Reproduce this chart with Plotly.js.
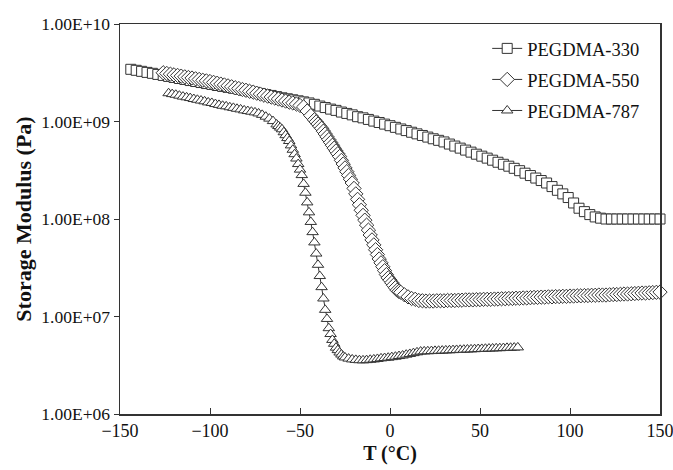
<!DOCTYPE html>
<html>
<head>
<meta charset="utf-8">
<script src="https://cdn.plot.ly/plotly-3.0.1.min.js"></script>
<style>html,body{margin:0;padding:0;background:#fff;}#chart{width:673px;height:470px;}</style>
</head>
<body>
<div id="chart"></div>
<script>
// Temperature (°C) and storage modulus (Pa)
const seriesNames = ['PEGDMA-330', 'PEGDMA-550', 'PEGDMA-787'];

const temp330 = [-144,-141,-138,-135,-132,-129,-126,-123,-120,-117,-114,-111,-108,-105,-102,-99,-96,-93,-90,-87,-84,-81,-78,-75,-72,-69,-66,-63,-60,-57,-54,-51,-48,-45,-42,-39,-36,-33,-30,-27,-24,-21,-18,-15,-12,-9,-6,-3,0,3,6,9,12,15,18,21,24,27,30,33,36,39,42,45,48,51,54,57,60,63,66,69,72,75,78,81,84,87,90,93,96,99,102,105,108,111,114,117,120,123,126,129,132,135,138,141,144,147,150];
const mod330 = [3.43e9,3.35e9,3.27e9,3.19e9,3.12e9,3.04e9,2.97e9,2.90e9,2.83e9,2.76e9,2.70e9,2.63e9,2.57e9,2.51e9,2.45e9,2.40e9,2.34e9,2.29e9,2.24e9,2.19e9,2.14e9,2.09e9,2.04e9,1.99e9,1.94e9,1.89e9,1.85e9,1.80e9,1.75e9,1.71e9,1.67e9,1.63e9,1.59e9,1.55e9,1.50e9,1.44e9,1.39e9,1.34e9,1.30e9,1.25e9,1.21e9,1.17e9,1.12e9,1.09e9,1.05e9,1.01e9,9.77e8,9.40e8,9.06e8,8.71e8,8.38e8,8.07e8,7.76e8,7.47e8,7.19e8,6.92e8,6.65e8,6.41e8,6.17e8,5.87e8,5.60e8,5.33e8,5.09e8,4.85e8,4.62e8,4.41e8,4.21e8,4.01e8,3.82e8,3.64e8,3.48e8,3.31e8,3.13e8,2.95e8,2.79e8,2.63e8,2.48e8,2.34e8,2.15e8,1.97e8,1.81e8,1.66e8,1.46e8,1.29e8,1.19e8,1.11e8,1.05e8,1.02e8,1.00e8,1.00e8,1.00e8,1.00e8,1.00e8,1.00e8,1.00e8,1.00e8,1.00e8,1.00e8,1.00e8];

const temp550 = [-126,-124,-122,-120,-118,-116,-114,-112,-110,-108,-106,-104,-102,-100,-98,-96,-94,-92,-90,-88,-86,-84,-82,-80,-78,-76,-74,-72,-70,-68,-66,-64,-62,-60,-58,-56,-54,-52,-50,-48,-46,-44,-42,
-41,-40,-39,-38,-37,-36,-35,-34,-33,-32,-31,-30,-29,-28,-27,-26,-25,-24,-23,-22,-21,-20,-19,-18,-17,-16,-15,-14,-13,-12,-11,-10,-9,-8,-7,-6,-5,-4,-3,-2,-1,0,1,2,3,4,5,6,
8,10,12,14,16,18,20,22,24,26,28,30,32,34,36,38,40,42,44,46,48,50,52,54,56,58,60,62,64,66,68,70,72,74,76,78,80,82,84,86,88,90,92,94,96,98,100,102,104,106,108,110,112,114,116,118,120,122,124,126,128,130,132,134,136,138,140,142,144,146,148,150];
const mod550 = [3.16e9,3.11e9,3.06e9,3.01e9,2.97e9,2.92e9,2.87e9,2.83e9,2.79e9,2.74e9,2.70e9,2.65e9,2.61e9,2.57e9,2.52e9,2.47e9,2.42e9,2.37e9,2.32e9,2.27e9,2.22e9,2.18e9,2.13e9,2.09e9,2.04e9,2.00e9,1.95e9,1.91e9,1.86e9,1.82e9,1.78e9,1.74e9,1.70e9,1.66e9,1.62e9,1.58e9,1.55e9,1.51e9,1.46e9,1.41e9,1.28e9,1.15e9,1.04e9,
9.91e8,9.42e8,8.95e8,8.51e8,7.96e8,7.45e8,6.97e8,6.52e8,6.10e8,5.70e8,5.33e8,4.99e8,4.67e8,4.37e8,3.99e8,3.66e8,3.34e8,3.06e8,2.80e8,2.56e8,2.34e8,2.06e8,1.81e8,1.59e8,1.40e8,1.23e8,1.09e8,9.73e7,8.65e7,7.69e7,6.85e7,6.10e7,5.43e7,4.84e7,4.32e7,3.89e7,3.55e7,3.24e7,2.95e7,2.69e7,2.49e7,2.36e7,2.22e7,2.09e7,1.97e7,1.86e7,1.81e7,1.77e7,
1.67e7,1.59e7,1.53e7,1.50e7,1.46e7,1.45e7,1.44e7,1.44e7,1.44e7,1.45e7,1.45e7,1.45e7,1.46e7,1.46e7,1.46e7,1.47e7,1.47e7,1.48e7,1.48e7,1.48e7,1.49e7,1.49e7,1.50e7,1.50e7,1.50e7,1.51e7,1.51e7,1.52e7,1.52e7,1.53e7,1.53e7,1.54e7,1.54e7,1.55e7,1.55e7,1.56e7,1.57e7,1.57e7,1.58e7,1.58e7,1.59e7,1.59e7,1.60e7,1.60e7,1.61e7,1.61e7,1.62e7,1.62e7,1.63e7,1.63e7,1.64e7,1.64e7,1.65e7,1.65e7,1.66e7,1.66e7,1.66e7,1.67e7,1.68e7,1.68e7,1.69e7,1.70e7,1.70e7,1.71e7,1.72e7,1.73e7,1.74e7,1.74e7,1.75e7,1.76e7,1.77e7,1.78e7];

const temp787 = [-123,-121,-119,-117,-115,-113,-111,-109,-107,-105,-103,-101,-99,-97,-95,-93,-91,-89,-87,-85,-83,-81,-79,-77,-75,-73,-71,-69,-67,-65,-63,
-62,-61,-60,-59,-58,-57,-56,-55,-54,-53,-52,-51,-50,-49,-48,-47,-46,-45,-44,-43,-42,-41,-40,-39,-38,-37,-36,-35,-34,-33,-32,-31,-30,-29,-28,-27,-26,-25,
-23,-21,-19,-17,-15,-13,-11,-9,-7,-5,-3,-1,1,3,5,7,9,11,13,15,17,19,21,23,25,27,29,31,33,35,37,39,41,43,45,47,49,51,53,55,57,59,61,63,65,67,69,71];
const mod787 = [1.95e9,1.91e9,1.88e9,1.84e9,1.80e9,1.77e9,1.74e9,1.70e9,1.67e9,1.64e9,1.61e9,1.57e9,1.55e9,1.51e9,1.48e9,1.45e9,1.43e9,1.40e9,1.38e9,1.35e9,1.33e9,1.30e9,1.28e9,1.26e9,1.24e9,1.21e9,1.17e9,1.12e9,1.07e9,1.01e9,9.33e8,
8.98e8,8.65e8,8.32e8,7.76e8,7.24e8,6.76e8,6.31e8,5.69e8,5.13e8,4.62e8,4.17e8,3.66e8,3.21e8,2.82e8,2.29e8,1.86e8,1.48e8,1.17e8,9.33e7,7.33e7,5.75e7,4.42e7,3.39e7,2.60e7,2.00e7,1.53e7,1.17e7,9.44e6,7.59e6,6.61e6,5.75e6,5.25e6,4.79e6,4.52e6,4.27e6,4.07e6,3.89e6,3.80e6,
3.70e6,3.63e6,3.59e6,3.56e6,3.55e6,3.57e6,3.60e6,3.63e6,3.67e6,3.72e6,3.75e6,3.78e6,3.83e6,3.87e6,3.93e6,3.98e6,4.06e6,4.13e6,4.21e6,4.29e6,4.37e6,4.39e6,4.40e6,4.42e6,4.44e6,4.45e6,4.47e6,4.49e6,4.50e6,4.52e6,4.54e6,4.55e6,4.57e6,4.59e6,4.60e6,4.62e6,4.64e6,4.65e6,4.67e6,4.69e6,4.70e6,4.72e6,4.73e6,4.75e6,4.77e6,4.78e6,4.80e6,4.82e6];

const xTicks = [-150, -100, -50, 0, 50, 100, 150];
const yTicks = [1e6, 1e7, 1e8, 1e9, 1e10];
const yTickLabels = ['1.00E+06', '1.00E+07', '1.00E+08', '1.00E+09', '1.00E+10'];

const FONT = 'Liberation Serif, Times New Roman, serif';
const INK = '#333333';
const TEXT = '#111111';

function makeTrace(i, xs, ys, symbol, size) {
  return {
    type: 'scatter', mode: 'lines+markers',
    name: seriesNames[i], x: xs, y: ys,
    legendgroup: 'g' + i,
    line: {color: INK, width: 1},
    marker: {symbol: symbol, size: size, color: '#ffffff', line: {color: INK, width: 1}},
    cliponaxis: false
  };
}

const data = [
  makeTrace(0, temp330, mod330, 'square', 10),
  makeTrace(1, temp550, mod550, 'diamond', 11),
  makeTrace(2, temp787, mod787, 'triangle-up', 10)
];

const layout = {
  width: 673, height: 470,
  margin: {l: 120, r: 13, t: 24, b: 56},
  paper_bgcolor: '#ffffff', plot_bgcolor: '#ffffff',
  font: {family: FONT, size: 17, color: TEXT},
  showlegend: true,
  legend: {
    x: 0.68, y: 0.985, xanchor: 'left', yanchor: 'top',
    bgcolor: 'rgba(0,0,0,0)', borderwidth: 0,
    font: {family: FONT, size: 18.5, color: TEXT},
    traceorder: 'grouped', tracegroupgap: 4
  },
  xaxis: {
    range: [-150, 150], tickmode: 'array', tickvals: xTicks,
    ticks: 'inside', ticklen: 6, tickwidth: 1, tickcolor: INK,
    ticklabeloverflow: 'allow',
    showline: true, linecolor: INK, linewidth: 1.5, mirror: true,
    showgrid: false, zeroline: false,
    tickfont: {family: FONT, size: 18, color: TEXT},
    title: {text: '<b>T (°C)</b>', font: {family: FONT, size: 20, color: TEXT}, standoff: 6}
  },
  yaxis: {
    type: 'log', range: [6, 10], tickmode: 'array', tickvals: yTicks, ticktext: yTickLabels,
    ticks: 'outside', ticklen: 5, tickwidth: 1, tickcolor: INK,
    ticklabeloverflow: 'allow',
    showline: true, linecolor: INK, linewidth: 1.5, mirror: true,
    showgrid: false, zeroline: false,
    tickfont: {family: FONT, size: 17.5, color: TEXT},
    title: {text: '<b>Storage Modulus (Pa)</b>', font: {family: FONT, size: 22, color: TEXT}, standoff: 3}
  }
};

Plotly.newPlot('chart', data, layout, {displayModeBar: false, staticPlot: true});
</script>
</body>
</html>
